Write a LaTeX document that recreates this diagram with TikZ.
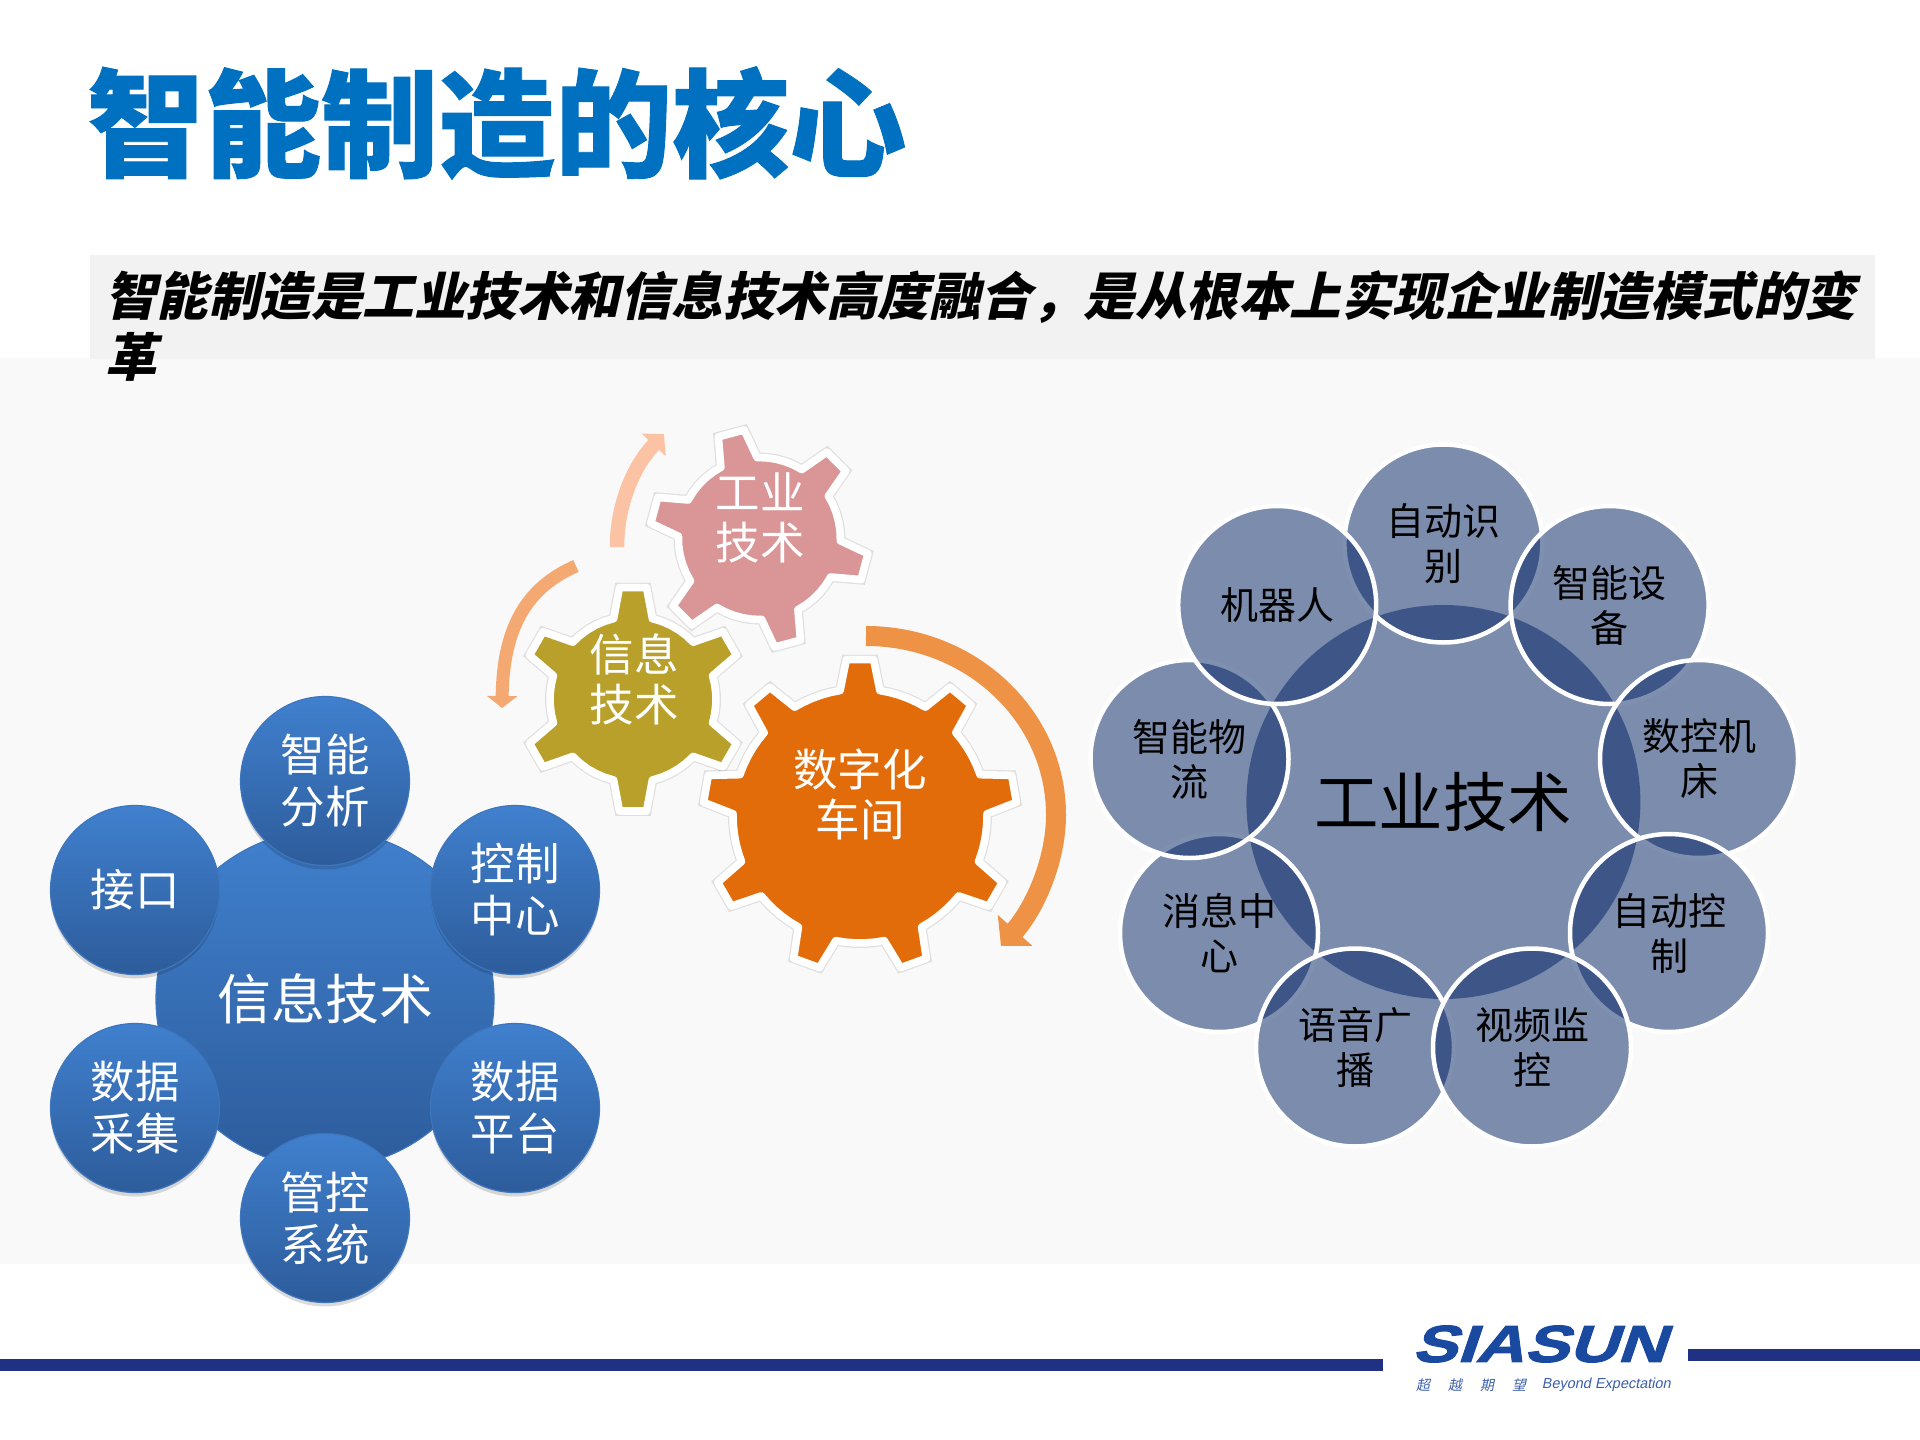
\documentclass[tikz,border=0pt]{standalone}
\usepackage{fontspec}
\usetikzlibrary{positioning}
\usetikzlibrary{arrows.meta}
\usetikzlibrary{shadows}
\newfontfamily\cjk[BoldFeatures={FakeBold=0.8}]{Noto Sans CJK SC}
\newfontfamily\cjkslant[FakeSlant=0.22]{Noto Sans CJK SC}
\newfontfamily\logofont[FakeSlant=0.34,FakeStretch=1.29,BoldFeatures={FakeBold=2.2}]{Liberation Sans}
\newfontfamily\tagfont[FakeSlant=0.2]{Noto Sans CJK SC}
\newfontfamily\tagfonten[FakeSlant=0.2]{Liberation Sans}
\definecolor{titleblue}{RGB}{0,112,192}
\definecolor{hubtop}{RGB}{64,128,206}
\definecolor{hubbottom}{RGB}{45,92,155}
\definecolor{hubedge}{RGB}{62,118,190}
\definecolor{petalblue}{RGB}{1,33,99}
\definecolor{barblue}{RGB}{32,48,130}
\definecolor{logoblue}{RGB}{25,74,160}
\definecolor{tagblue}{RGB}{60,96,172}
\definecolor{gearpink}{RGB}{218,149,150}
\definecolor{gearyellow}{RGB}{184,160,43}
\definecolor{gearorange}{RGB}{227,108,10}
\definecolor{arrowbig}{RGB}{238,146,70}
\definecolor{arrowmid}{RGB}{244,169,114}
\definecolor{arrowpale}{RGB}{251,194,163}
\tikzset{
    softshadow/.style={drop shadow={shadow xshift=0pt, shadow yshift=-4pt, opacity=0.14, fill=black}},
    hub/.style={circle, inner sep=0pt, align=center, text=white, top color=hubtop, bottom color=hubbottom, draw=hubedge, line width=1.2pt},
    infohub/.style={hub, minimum size=338pt, font=\cjk\fontsize{54}{62}\selectfont},
    infosat/.style={hub, softshadow, minimum size=169pt, font=\cjk\fontsize{44.5}{52}\selectfont},
    toolhub/.style={circle, inner sep=0pt, align=center, fill=petalblue, fill opacity=0.5, text opacity=1, minimum size=394pt, font=\cjk\fontsize{64.5}{72}\selectfont},
    toolpetal/.style={circle, inner sep=0pt, align=center, fill=petalblue, fill opacity=0.5, text opacity=1, draw=white, draw opacity=1, line width=4.5pt, minimum size=198pt, font=\cjk\fontsize{38}{45}\selectfont},
    gearline/.style={draw=white, line width=7.6pt, line join=round, preaction={draw=black, draw opacity=0.1, line width=10pt, yshift=-2pt}},
    gearlabel/.style={align=center, text=white, inner sep=0pt, font=\cjk\fontsize{44.5}{50}\selectfont},
    turnarrow/.style={line cap=butt}
}
\newcommand{\gearshape}[8]{%
    \draw[gearline, fill=#8, shift={(#1)}] ({#7-90-#5}:#3)
        \foreach \tooth [evaluate=\tooth as \ang using #7-90+\tooth*360/#2] in {0,...,\numexpr#2-1\relax} {
            -- ({\ang+#5}:#3) -- ({\ang+#6}:#4)
            \foreach \k in {0.2,0.4,0.6,0.8,1} {
                -- ({\ang+#6+\k*(360/#2-2*#6)}:#4)
            }
            -- ({\ang+360/#2-#5}:#3)
        } -- cycle;
}
\begin{document}
\begin{tikzpicture}[x=1pt, y=-1pt]
        \useasboundingbox (0,0) rectangle (1920,1440);
        \fill[white] (0,0) rectangle (1920,1440);
        \fill[black!2.5] (0,358) rectangle (1920,1264);
        \fill[black!5] (90,255) rectangle (1875,359);
        \node[anchor=west, inner sep=0pt, text=titleblue, font=\cjk\bfseries\fontsize{117}{120}\selectfont] (title) at (87,123) {智能制造的核心};
        \node[anchor=north west, inner sep=0pt, align=left, font=\cjkslant\bfseries\fontsize{51.5}{61}\selectfont] (lead) at (105,270) {智能制造是工业技术和信息技术高度融合，是从根本上实现企业制造模式的变\\革};

        \node[infohub] (info) at (325,999) {信息技术};
        \node[infosat] (infoa) at (325,781) {智能\\分析};
        \node[infosat] (infob) at (515,890) {控制\\中心};
        \node[infosat] (infoc) at (515,1108) {数据\\平台};
        \node[infosat] (infod) at (325,1218) {管控\\系统};
        \node[infosat] (infoe) at (135,1108) {数据\\采集};
        \node[infosat] (infof) at (135,890) {接口};

        \coordinate (palestart) at (617,547);
        \coordinate (paleend) at (664,434);
        \coordinate (midstart) at (576,566);
        \coordinate (midend) at (502,708);
        \coordinate (bigstart) at (866,636);
        \coordinate (bigturn) at (1056,815);
        \coordinate (bigend) at (1001,946);
        \draw[turnarrow, arrowpale, line width=14.5pt, -{Triangle[length=15pt,width=32pt]}] (palestart) .. controls (617,510) and (630,470) .. (paleend);
        \draw[turnarrow, arrowmid, line width=13pt, -{Triangle[length=12pt,width=30pt]}] (midstart) .. controls (525,588) and (503,630) .. (midend);
        \draw[turnarrow, arrowbig, line width=20pt] (bigstart) .. controls (971,636) and (1056,716) .. (bigturn);
        \draw[turnarrow, arrowbig, line width=20pt, -{Triangle[length=21pt,width=45pt]}] (bigturn) .. controls (1056,860) and (1035,908) .. (bigend);

        \gearshape{759.4,538.5}{6}{109.6}{81}{7}{13.4}{-15}{gearpink}
        \gearshape{633,699.3}{6}{112.5}{83}{6.9}{13.5}{0}{gearyellow}
        \gearshape{860,816}{9}{157}{127}{5}{9}{0}{gearorange}
        \node[gearlabel] (techgear) at (760,518) {工业\\技术};
        \node[gearlabel] (infogear) at (634,679) {信息\\技术};
        \node[gearlabel] (digigear) at (860,794) {数字化\\车间};

        \node[toolhub] (tool) at (1443.4,802) {工业技术};
        \node[toolpetal] (toola) at (1443.4,543.5) {自动识\\别};
        \node[toolpetal] (toolb) at (1609.6,605) {智能设\\备};
        \node[toolpetal] (toolc) at (1699,759) {数控机\\床};
        \node[toolpetal] (toold) at (1669,933) {自动控\\制};
        \node[toolpetal] (toole) at (1219,933) {消息中\\心};
        \node[toolpetal] (toolf) at (1355,1047.5) {语音广\\播};
        \node[toolpetal] (toolg) at (1532,1047.5) {视频监\\控};
        \node[toolpetal] (toolh) at (1189.5,759) {智能物\\流};
        \node[toolpetal] (tooli) at (1277.2,605) {机器人};

        \fill[barblue] (0,1359.3) rectangle (1383,1370.7);
        \fill[barblue] (1688,1349.3) rectangle (1920,1360.7);
        \node[inner sep=0pt, text=logoblue, font=\logofont\bfseries\fontsize{52}{56}\selectfont] (logo) at (1538.5,1344) {SIASUN};
        \node[anchor=west, inner sep=0pt, text=tagblue, font=\tagfont\fontsize{14}{16}\selectfont] (tagcn) at (1416,1385) {超\hspace{18pt}越\hspace{18pt}期\hspace{18pt}望};
        \node[anchor=east, inner sep=0pt, text=tagblue, font=\tagfonten\fontsize{14.5}{16}\selectfont] (tagen) at (1671,1385) {Beyond Expectation};
    \end{tikzpicture}
\end{document}
